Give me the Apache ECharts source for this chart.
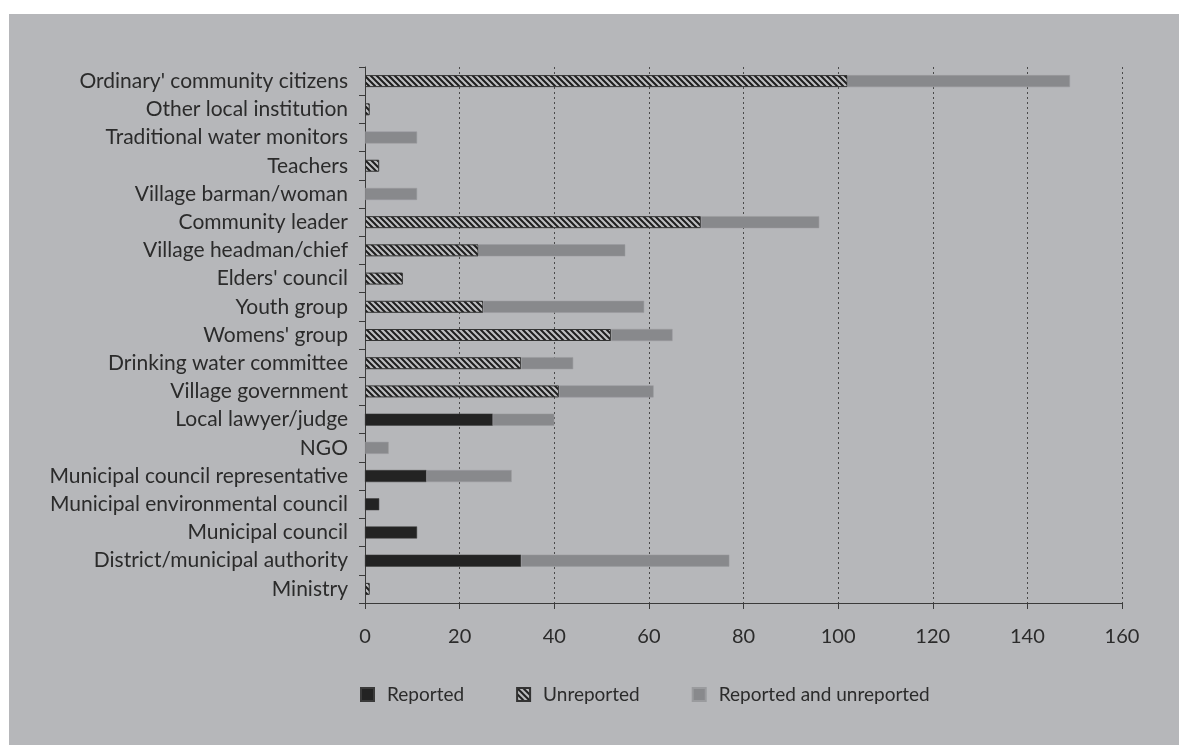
<!DOCTYPE html>
<html>
<head>
<meta charset="utf-8">
<script src="https://cdn.jsdelivr.net/npm/echarts@6/dist/echarts.min.js"></script>
<style>
  html, body { margin: 0; padding: 0; background: #fff; }
  #chart { position: absolute; left: 9px; top: 14px; width: 1170px; height: 731px; background: #b6b7ba; }
</style>
</head>
<body>
<div id="chart"></div>
<script>
// categories, top to bottom
const categories = [
  "Ordinary' community citizens",
  'Other local institution',
  'Traditional water monitors',
  'Teachers',
  'Village barman/woman',
  'Community leader',
  'Village headman/chief',
  "Elders' council",
  'Youth group',
  "Womens' group",
  'Drinking water committee',
  'Village government',
  'Local lawyer/judge',
  'NGO',
  'Municipal council representative',
  'Municipal environmental council',
  'Municipal council',
  'District/municipal authority',
  'Ministry'
];
const reported   = [0, 0, 0, 0, 0, 0, 0, 0, 0, 0, 0, 0, 27, 0, 13, 3, 11, 33, 0];
const unreported = [102, 1, 0, 3, 0, 71, 24, 8, 25, 52, 33, 41, 0, 0, 0, 0, 0, 0, 1];
const both       = [47, 0, 11, 0, 11, 25, 31, 0, 34, 13, 11, 20, 13, 5, 18, 0, 0, 44, 0];
const xTicks = [0, 20, 40, 60, 80, 100, 120, 140, 160];

const textColor = '#2b2b2b';
const font = 'Lato, "Open Sans", sans-serif';

// diagonal hatch tile
const hatch = (() => {
  const s = 6;
  const c = document.createElement('canvas');
  c.width = s; c.height = s;
  const ctx = c.getContext('2d');
  ctx.fillStyle = '#bdbec0';
  ctx.fillRect(0, 0, s, s);
  ctx.strokeStyle = '#1e1e1e';
  ctx.lineWidth = 2;
  ctx.beginPath();
  ctx.moveTo(-1, -1); ctx.lineTo(s + 1, s + 1);
  ctx.moveTo(s - 1, -1); ctx.lineTo(s + 1, 1);
  ctx.moveTo(-1, s - 1); ctx.lineTo(1, s + 1);
  ctx.stroke();
  return c;
})();

const nz = arr => arr.map(v => v === 0 ? null : v);

const chart = echarts.init(document.getElementById('chart'));
chart.setOption({
  animation: false,
  textStyle: { fontFamily: font },
  grid: { left: 356, top: 53, right: 57, bottom: 142, containLabel: false },
  legend: {
    left: 346,
    top: 666,
    itemWidth: 13,
    itemHeight: 13,
    itemGap: 52,
    icon: 'rect',
    textStyle: { color: textColor, fontSize: 19, fontFamily: font, padding: [0, 0, 0, 8] },
    data: ['Reported', 'Unreported', 'Reported and unreported']
  },
  xAxis: {
    type: 'value',
    min: 0,
    max: 160,
    interval: 20,
    axisLine: { show: true, lineStyle: { color: '#3a3a3a', width: 1 } },
    axisTick: { show: true, length: 6, lineStyle: { color: '#3a3a3a' } },
    axisLabel: {
      color: textColor, fontSize: 20, margin: 24, fontFamily: font,
      formatter: v => xTicks.indexOf(v) >= 0 ? String(v) : ''
    },
    splitLine: { show: true, lineStyle: { color: '#4a4a4a', type: [2, 3], width: 1 } }
  },
  yAxis: {
    type: 'category',
    inverse: true,
    data: categories,
    axisLine: { show: true, lineStyle: { color: '#3a3a3a', width: 1 } },
    axisTick: { show: true, length: 6, lineStyle: { color: '#3a3a3a' } },
    axisLabel: { color: textColor, fontSize: 21, margin: 17, fontFamily: font },
    splitLine: { show: false }
  },
  series: [
    {
      name: 'Reported',
      type: 'bar',
      stack: 'total',
      barWidth: 12,
      itemStyle: { color: '#232323', borderColor: '#3a3a3a', borderWidth: 0.5 },
      data: nz(reported)
    },
    {
      name: 'Unreported',
      type: 'bar',
      stack: 'total',
      barWidth: 12,
      itemStyle: { color: { image: hatch, repeat: 'repeat' }, borderColor: '#333', borderWidth: 1 },
      data: nz(unreported)
    },
    {
      name: 'Reported and unreported',
      type: 'bar',
      stack: 'total',
      barWidth: 12,
      itemStyle: { color: '#88898c', borderColor: '#9a9b9e', borderWidth: 0.5 },
      data: nz(both)
    }
  ]
});
</script>
</body>
</html>
